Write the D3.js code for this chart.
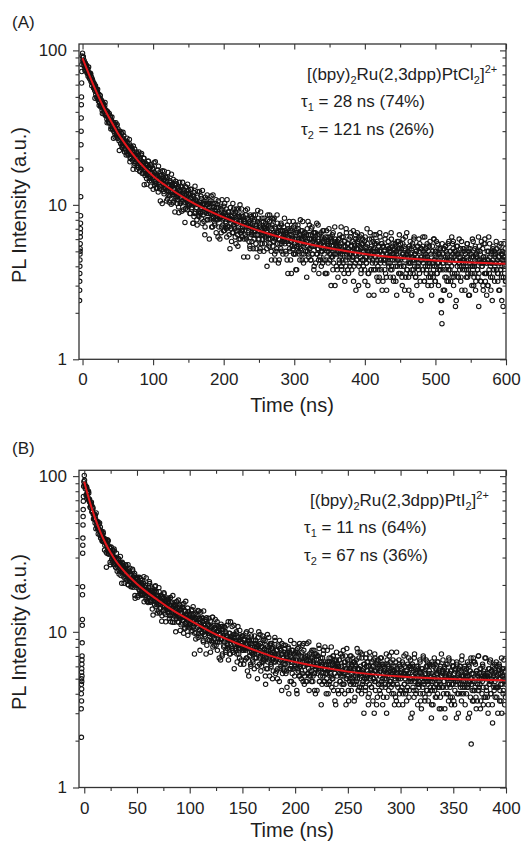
<!DOCTYPE html>
<html><head><meta charset="utf-8">
<script src="https://cdn.jsdelivr.net/npm/d3@7"></script>
<style>body{margin:0;background:#fff}svg{display:block}</style>
</head><body>
<svg id="chart" width="521" height="842"></svg>
<script>
// ---------- Panel A data: two interleaved sweeps, step 0.75 ns ----------
const timeStepA = 0.75;
const timeOffsetA2 = 0.375;
const intensityA = [
96,90,84,86,78,83,80,74,76,71,76,70,72,66,69,71,63,67,62,64,
62,57,61,55,58,52,56,50,54,51,47,52,46,49,44,48,45,41,46,42,
43,40,44,38,41,39,36,40,37,35,38,34,36,37,32,35,33,31,34,30,
33,29,31,34,28,30,27,31,29,26,28,30,25,27,29,24,27,25,28,23,
26,23,25,22,27,24,21,23,25,22,20,24,21.5,23,19.5,22,24,20,21,18.5,
21,19,22,18,20,17.5,21,19,16.5,20,18,21,17,19,16,18.5,20,17,15.5,18,
17.5,14.8,18.2,16.0,19.2,16.3,14.8,17.3,16.1,13.2,17.8,16.2,14.8,17.1,15.1,18.7,13.4,15.8,13.8,15.1,
13.8,15.6,16.8,12.1,14.6,13.9,15.5,10.6,15.6,14.4,12.6,16.6,13.6,14.4,11.8,14.6,13.5,12.7,15.0,12.4,
15.0,12.7,11.5,13.5,10.4,14.0,12.9,11.6,15.8,12.0,13.2,10.3,12.8,12.0,13.6,11.0,14.2,11.3,11.9,10.2,
11.3,13.1,8.9,11.9,12.5,10.2,13.2,11.2,10.5,14.0,11.2,9.3,12.3,11.6,10.4,9.5,13.0,11.6,10.5,9.8,
11.8,10.8,10.0,8.8,12.6,11.2,9.4,10.0,11.6,7.6,10.6,12.0,8.8,10.0,10.8,9.6,8.0,12.2,10.2,9.0,
8.4,12.2,10.0,9.0,9.6,11.0,7.6,10.2,8.6,10.6,9.6,6.4,11.2,9.0,10.0,8.0,10.0,9.2,8.8,10.8,
9.6,8.0,8.8,11.4,7.2,9.2,10.2,8.2,9.6,8.8,7.4,9.2,10.8,8.0,8.2,10.0,6.2,9.6,8.6,8.2,
8.2,9.8,6.6,9.0,8.6,7.4,8.2,9.8,6.8,9.0,8.6,7.6,7.0,10.8,7.2,8.0,9.0,6.4,8.2,8.0,
8.0,7.0,8.4,6.6,10.2,7.4,8.8,7.0,7.8,9.0,5.6,7.6,8.4,6.4,7.4,9.4,6.8,8.4,6.0,7.8,
6.8,8.6,6.8,7.4,8.0,6.0,7.8,7.2,9.2,6.2,7.4,8.2,4.6,8.0,6.8,7.2,5.4,8.6,7.6,6.4,
5.8,7.0,6.4,8.6,6.0,8.0,6.8,7.2,5.2,7.4,6.4,9.2,6.0,6.8,7.6,5.0,7.2,5.6,6.6,8.2,
6.0,6.4,7.2,8.2,5.6,6.2,7.0,7.4,5.2,6.6,8.6,6.0,6.4,7.8,5.6,7.2,6.6,4.4,7.4,6.2,
5.8,6.6,8.2,4.8,6.0,7.0,6.2,5.2,7.6,6.6,4.2,7.2,6.0,5.6,6.8,7.6,5.0,5.8,6.2,6.8,
7.2,5.8,6.0,6.8,5.0,6.6,5.8,7.4,3.6,6.0,6.8,5.2,6.4,4.4,7.0,5.8,5.4,6.0,7.8,4.8,
5.6,6.0,6.6,3.8,6.8,5.4,5.2,7.4,6.0,4.8,5.6,6.4,5.2,6.8,6.0,4.4,7.8,5.4,4.8,6.2,
5.6,6.0,4.4,6.4,5.8,5.0,7.8,4.8,5.2,6.0,6.4,4.4,7.0,5.4,4.8,5.8,6.0,3.8,6.6,5.4,
6.6,5.6,4.8,6.4,5.2,7.4,4.4,5.8,4.6,5.4,5.6,4.0,6.2,5.0,6.8,5.2,4.4,6.0,5.4,3.6,
4.4,6.8,5.2,5.6,4.2,5.8,5.2,4.8,6.2,4.8,4.6,5.8,6.4,3.8,5.4,4.8,5.8,3.0,6.0,5.4,
5.6,3.8,5.4,5.0,6.0,4.4,6.4,4.6,5.0,4.0,6.2,4.8,4.2,5.4,3.6,5.8,5.0,4.4,7.0,4.8,
5.0,3.8,5.6,5.2,4.6,4.0,6.2,5.4,4.8,4.4,4.6,5.8,3.2,5.2,5.4,4.2,6.0,4.8,4.4,6.6,
5.2,6.0,4.0,4.8,5.4,4.6,3.6,6.4,5.0,4.4,5.6,5.0,4.4,3.8,6.2,5.4,4.2,4.6,5.6,3.0,
4.8,2.6,6.0,4.6,5.2,3.8,5.4,4.8,4.4,5.8,3.8,6.4,5.0,4.2,4.6,5.6,3.4,5.0,4.0,5.4,
3.8,5.0,6.2,4.2,4.4,5.6,2.8,5.4,4.8,4.4,5.0,3.8,4.4,6.4,3.4,4.8,5.4,4.2,5.2,4.6,
5.0,4.2,3.8,6.6,4.0,4.8,5.4,3.4,4.8,4.6,4.4,5.6,3.2,5.0,4.8,4.0,4.4,5.8,3.6,5.2,
4.4,3.6,5.2,4.6,3.0,5.6,4.8,4.0,5.4,4.4,6.2,3.6,4.8,3.8,4.6,4.8,3.4,5.2,4.2,5.8,
4.2,5.2,2.6,5.4,4.6,3.8,6.0,4.4,4.8,3.4,5.0,4.4,4.0,5.4,4.0,3.8,5.0,5.6,3.2,4.6,
5.2,4.6,3.8,6.2,4.2,4.8,3.2,4.6,4.4,5.2,3.8,5.6,4.0,4.4,3.4,5.4,4.2,3.6,4.8,3.0,
3.6,5.4,4.2,3.8,6.0,4.4,3.2,5.0,4.6,4.0,3.6,5.6,4.8,4.2,3.8,4.0,5.2,2.4,2.0,1.7,
4.8,3.8,4.2,5.2,2.8,4.6,5.4,3.4,4.4,4.8,4.0,3.2,5.8,4.4,3.8,5.0,4.4,4.0,3.4,5.6,
5.2,3.0,4.6,3.6,5.0,4.4,2.4,5.4,4.0,4.8,3.4,4.8,4.2,4.0,5.2,3.4,5.8,4.4,3.8,4.2,
4.4,5.0,3.8,4.8,4.2,3.4,4.6,5.6,3.6,3.8,5.2,2.6,4.8,4.4,4.0,4.6,3.6,4.0,5.8,3.0,
3.6,4.2,5.4,3.2,4.8,4.6,3.8,3.4,6.2,3.6,4.4,5.0,3.2,4.4,4.2,4.0,5.2,2.8,4.6,4.4,
6.0,3.2,4.6,3.6,4.2,4.4,3.0,5.0,3.8,5.6,4.2,3.4,4.8,4.2,2.4,5.2,4.4,3.8,5.0,4.0,
4.8,4.2,3.8,5.2,3.6,3.6,4.6,5.4,2.8,4.2,3.8,4.8,2.4,5.0,4.4,3.4,5.6,4.0,4.6,3.2,
4.4];
const intensityA2 = [
86,91,80,83,74,82,78,80,72,75,68,78,69,70,65,70,65,59,65,61,
62,57,58,49,59,54,55,49,56,49,49,44,48,51,43,44,47,39,44,45,
39,42,46,38,41,38,34,40,37,34,39,34,37,31,35,37,31,32,27,34,
33,27.5,31,32.5,29,33,27,28,30,22.5,28,27.5,25,29,23.5,25.5,29.5,24,25.5,22,
24,25.5,21,24,25.5,21.5,23.5,22,26.5,19,23,20,23.5,21,22.5,17,21,18,23,19,
21,20.5,17,21.5,19,17.5,22,19.5,16.5,18.5,17.5,21.5,16,19,17.5,20,13.5,17.5,16,18.5,
18.3,13.6,16.7,15.6,19.1,17.0,14.3,17.4,15.3,18.2,14.3,16.0,17.3,12.6,15.1,16.2,14.1,19.0,15.5,12.8,
12.9,15.3,13.8,17.8,14.5,12.7,16.4,13.1,14.5,14.8,10.2,15.2,13.6,12.2,16.5,13.0,15.2,13.6,10.6,14.2,
10.9,16.2,12.4,13.4,11.4,14.3,12.8,10.1,13.6,12.1,11.7,14.6,10.6,12.6,9.0,13.3,12.0,13.7,10.8,12.7,
11.7,9.7,12.3,14.0,10.3,11.1,13.0,9.1,11.8,12.1,12.6,10.3,11.5,7.7,13.1,10.8,11.9,9.3,13.6,10.2,
12.4,10.0,11.6,8.8,11.0,12.6,9.6,10.4,7.6,11.4,8.4,10.4,13.2,9.0,10.6,9.6,7.4,11.2,10.0,8.6,
10.4,10.0,8.8,11.4,8.2,9.6,12.4,9.0,10.0,7.8,10.2,7.2,9.4,10.8,8.8,11.6,8.0,9.2,10.2,6.0,
10.2,9.0,10.6,8.2,9.8,7.2,11.6,8.4,9.2,7.6,10.2,8.8,6.6,9.6,8.4,8.0,10.6,7.2,8.8,6.0,
8.4,9.4,7.2,10.8,8.0,8.4,6.8,8.8,10.2,7.2,7.8,9.4,6.2,8.4,8.6,9.0,7.2,8.2,5.2,9.6,
7.6,5.8,9.0,8.0,6.6,9.4,7.2,8.6,6.2,8.0,9.4,6.8,7.6,5.4,8.6,6.0,7.8,10.0,6.6,8.0,
9.4,6.2,7.2,8.4,4.6,7.8,7.6,6.4,8.6,6.0,7.2,9.4,6.6,7.6,5.8,7.8,5.2,7.2,8.4,6.6,
8.2,7.2,5.2,7.8,6.8,6.4,8.6,5.6,7.0,4.6,7.8,6.8,8.2,6.0,7.4,5.2,9.0,6.4,7.0,5.6,
6.4,7.8,5.0,7.0,7.2,7.6,6.0,6.8,4.0,8.0,6.4,7.4,5.4,8.6,6.0,6.4,5.0,7.0,8.2,5.4,
8.0,5.8,6.4,4.4,7.2,5.0,6.6,8.6,5.6,6.8,6.0,4.4,7.2,6.4,5.2,7.4,5.6,6.8,4.8,6.4,
6.0,8.2,5.6,6.4,4.8,6.6,4.4,6.2,7.0,5.6,7.8,5.0,5.8,6.8,3.6,6.4,6.2,5.2,7.2,4.8,
5.4,7.4,4.8,6.0,3.8,6.6,5.8,7.0,5.0,6.4,4.4,8.0,5.4,6.2,4.8,6.8,6.0,4.2,6.6,5.6,
6.6,5.0,5.8,3.4,7.0,5.4,6.4,4.6,7.4,5.2,5.6,4.4,6.0,7.2,4.8,5.4,6.6,4.0,6.0,6.2,
4.2,5.6,7.6,4.8,5.8,5.2,3.6,6.4,5.6,4.4,6.6,5.0,6.0,4.2,5.8,6.8,4.8,5.4,3.6,6.2,
5.8,3.6,5.4,6.2,5.0,7.0,4.4,5.2,6.0,3.0,5.8,5.4,4.6,6.6,4.2,5.2,7.2,4.8,5.6,4.0,
4.8,5.8,3.4,5.2,6.0,4.2,5.4,4.8,7.2,3.8,5.6,4.4,6.2,5.0,5.8,3.2,5.4,4.0,6.6,4.6,
5.6,5.2,3.6,6.0,4.8,4.2,6.6,5.4,3.8,5.0,4.6,6.8,4.0,5.6,4.8,6.4,2.8,5.2,4.4,5.8,
5.6,3.0,4.8,4.2,6.2,5.2,3.8,5.6,4.4,6.0,4.0,5.0,5.8,3.2,4.6,5.2,4.2,7.0,5.0,3.6,
3.6,5.0,4.4,6.6,4.8,3.8,6.0,4.2,5.0,5.2,2.6,5.6,4.6,3.8,6.4,4.4,5.8,4.8,3.2,5.4,
3.4,6.6,4.4,5.0,3.8,5.6,4.8,3.2,5.4,4.4,4.2,6.0,3.6,4.8,2.8,5.4,4.6,5.8,4.0,5.2,
4.6,3.4,5.0,6.0,3.8,4.4,5.6,3.2,4.8,5.2,5.4,4.0,4.8,2.6,5.8,4.4,5.2,3.6,6.4,4.2,
5.6,4.0,5.2,3.4,4.8,6.0,4.0,4.6,2.8,5.2,3.4,4.8,6.6,3.8,5.0,4.2,2.8,5.4,4.6,3.6,
4.8,4.6,3.8,5.6,3.6,4.4,6.2,4.0,4.8,3.4,5.0,3.0,4.6,5.4,4.2,6.0,3.6,4.4,5.2,2.4,
5.2,4.4,5.4,3.8,5.0,3.2,6.2,4.0,4.8,3.6,5.4,4.6,3.0,5.0,4.2,4.0,5.8,3.4,4.6,2.6,
4.2,5.0,3.4,6.0,4.0,4.4,3.2,4.8,5.8,3.6,4.2,5.2,3.0,4.6,4.8,5.2,3.8,4.6,2.4,5.6,
4.2,2.8,5.2,4.4,3.4,5.4,3.8,5.0,3.2,4.6,5.6,3.8,4.2,2.6,5.0,3.2,4.6,6.2,3.6,4.8,
5.8,3.4,4.2,5.0,2.2,4.8,4.4,3.6,5.4,3.4,4.2,6.0,3.8,4.6,3.2,4.8,2.8,4.4,5.2,4.0,
5.2,4.4,2.8,4.8,4.0,3.8,5.6,3.4,4.4,2.6,5.0,4.2,5.2,3.6,4.8,3.0,6.0,4.0,4.6,3.4,
4.0,5.2,2.8,4.6,4.8,5.0,3.8,4.4,2.2,5.4,4.2,4.8,3.2,5.8,4.0,4.2,3.0,4.6,5.6,3.6,
5.6,3.6,4.2,2.6,5.0,3.0,4.4,6.2,3.6,4.6,4.0,2.8,5.0,4.2,3.4,5.4,3.8,4.8,3.2,4.6,
4.2,5.8,3.8,4.4,3.2,4.6,2.8,4.2,5.0,3.8,5.6,3.4,4.0,4.8,2.2,4.6,4.4,3.6,5.2,3.2];
const preTimeA = [-0.6,-0.9,-1.1,-1.3,-1.5,-1.7,-1.9,-2.0,-2.2,-2.4,-2.6,-2.8,-2.9,-3.0,-3.1,-3.2,-3.3,-3.4,-3.5,-3.6,-3.7,-3.8,-3.9,-4.0,-4.1,-4.2];
const preIntensityA = [92,81,73,61.5,50,44.5,36.5,30,24.5,17,11.3,8.5,7.6,7.0,6.6,6.2,5.6,5.2,5.0,4.8,4.4,4.0,3.6,3.2,2.8,2.4];
const fitTimeA = [0,5,10,15,20,30,40,50,60,80,100,120,150,200,250,300,350,400,450,500,550,600];
const fitIntensityA = [89,77.8,68.3,60.3,53.5,42.7,35.1,29.1,24.9,19.0,15.4,13.1,10.7,8.3,6.8,5.85,5.23,4.81,4.54,4.36,4.23,4.15];
const xMajorA = [0,100,200,300,400,500,600];
const xMinorA = [50,150,250,350,450,550];

// ---------- Panel B data: two interleaved sweeps, step 0.5 ns ----------
const timeStepB = 0.5;
const timeOffsetB2 = 0.25;
const intensityB = [
101,89,83,86,76,83,78,73,80,70,71,63,67,64,65,59,63,57,57,53,
53,56,46,51,51,46,51,46,45,50,44,40,44,42,40,38,43,40,38,36,
39,37,26,32,39,36,32,33,35,28,33,35,29,31,32,29.5,27,33,29.5,27.5,
26,32,28.5,26.5,27,29.5,23.5,27.5,24.5,28,26,20.5,28,24.5,26,22.5,25.5,24,23.5,26.5,
24.5,21.6,22.8,27,20,23,24.4,21.2,23.4,21.7,19.7,22.2,24.6,20.1,20.4,23,17.1,22.1,20.8,19.9,
19.9,22.4,17.1,20.9,20.2,18.3,19.4,21.9,17.2,20.5,19.9,18.2,17.3,22.6,17.5,18.7,19.9,16.1,18.7,18.0,
18.4,15.4,19.2,16.8,20.4,17.2,15.6,18.3,17.1,14.0,18.9,17.2,15.8,18.2,16.1,19.8,14.5,17.0,14.9,16.2,
14.9,16.8,18.1,13.2,15.8,15.0,16.7,11.7,16.9,15.6,13.7,17.8,14.8,15.6,12.9,15.8,14.7,13.9,16.2,13.6,
16.3,13.9,12.7,14.8,11.6,15.3,14.1,12.8,17.1,13.2,14.5,11.5,14.0,13.3,14.9,12.2,15.6,12.6,13.2,11.5,
12.5,14.4,10.2,13.2,13.8,11.4,14.4,12.4,11.8,15.2,12.5,10.5,13.5,12.8,11.6,10.8,14.2,12.9,11.7,11.1,
13.0,12.0,11.2,10.0,13.9,12.4,10.7,11.3,12.9,7.2,11.9,13.2,9.9,11.3,12.2,10.7,9.2,13.6,11.4,10.3,
9.4,13.4,11.1,10.0,10.6,12.2,8.6,11.2,9.6,11.7,10.6,7.2,12.3,10.0,11.0,8.9,11.1,10.2,9.7,11.7,
10.6,8.8,9.6,12.4,8.0,10.2,11.0,9.0,10.6,9.6,8.2,10.0,11.6,8.6,9.0,10.8,6.8,10.4,9.6,9.0,
9.0,10.8,7.2,9.8,9.4,8.2,9.0,10.6,7.4,9.8,9.4,8.4,7.8,11.6,8.0,8.8,9.8,7.2,9.0,8.8,
8.8,7.8,9.2,7.4,11.0,8.4,9.6,7.8,8.6,9.8,6.4,8.4,9.2,7.2,8.2,10.2,7.8,9.2,6.6,8.6,
7.6,9.4,7.6,8.0,8.8,6.6,8.4,7.8,10.0,6.8,8.0,9.0,5.2,8.8,7.4,8.0,6.0,9.4,8.4,7.2,
6.4,7.6,7.2,9.4,6.8,8.8,7.6,8.0,6.0,8.2,7.2,10.0,6.8,7.6,8.4,5.6,8.0,6.4,7.2,8.8,
6.6,7.0,7.8,8.8,4.6,6.8,7.6,8.0,5.8,7.2,9.2,6.6,7.0,8.4,6.2,7.8,7.2,5.0,8.0,6.8,
6.4,7.2,8.8,5.4,6.6,7.6,6.8,5.8,8.2,7.2,4.8,7.8,6.6,6.0,7.2,8.4,5.4,6.2,6.8,7.4,
7.8,6.2,6.6,7.2,5.6,7.2,6.4,8.0,4.0,6.6,7.4,5.8,7.0,4.8,7.6,6.4,5.8,6.6,8.4,5.2,
6.0,6.6,7.2,4.2,7.4,5.8,5.6,8.0,6.6,5.2,6.2,7.0,5.6,7.4,6.4,4.8,8.4,6.0,5.2,6.8,
6.2,6.6,4.8,7.0,6.2,5.4,8.6,5.2,5.6,6.6,6.8,4.8,7.6,6.0,5.2,6.2,6.6,4.2,7.2,5.8,
7.2,6.2,5.4,7.0,5.8,8.2,4.8,6.4,5.2,6.0,6.2,4.6,6.8,5.4,7.6,5.8,4.8,6.4,5.8,4.0,
5.0,7.6,5.6,6.2,4.6,6.4,5.8,5.4,6.8,5.2,5.0,6.2,7.0,4.2,5.8,5.4,6.4,3.4,6.6,5.8,
6.2,4.2,6.0,5.6,6.6,4.8,7.2,5.2,5.6,4.6,7.0,5.4,4.6,6.0,4.0,6.4,5.8,5.0,7.8,5.2,
5.6,4.2,6.2,5.8,5.0,4.6,7.0,6.0,5.4,4.8,5.2,6.4,3.6,5.8,6.2,4.6,6.6,5.4,5.0,7.4,
5.8,6.8,4.4,5.4,6.0,5.2,4.0,7.2,5.6,4.8,6.2,5.4,5.0,4.2,6.8,6.0,4.8,5.2,6.4,3.4,
5.4,4.6,6.8,5.2,5.8,4.4,6.0,5.4,5.0,6.6,3.0,7.2,5.6,4.8,5.2,6.4,3.8,5.8,4.6,6.2,
4.2,5.6,6.8,4.6,4.8,6.2,3.4,6.0,5.4,5.0,5.6,4.4,5.0,7.2,3.8,5.4,6.2,4.6,5.8,5.2,
5.6,4.8,4.4,7.4,4.6,5.4,6.0,4.0,5.6,5.2,5.0,6.4,3.6,5.8,5.4,4.4,5.0,6.6,4.0,6.0,
5.0,4.2,5.8,5.2,3.4,6.2,5.4,4.6,6.0,5.0,7.2,4.2,5.6,4.4,5.2,5.4,3.8,6.0,4.8,6.6,
4.8,5.8,3.0,6.0,5.2,4.2,6.8,5.0,5.4,4.0,5.6,5.0,4.6,6.0,4.6,4.4,5.6,6.4,3.6,5.2,
5.8,5.2,4.4,7.0,4.8,5.6,3.6,5.4,5.0,6.0,4.2,6.4,4.6,5.0,4.0,6.2,4.8,4.2,5.4,3.4,
4.2,6.2,5.0,4.4,6.8,5.0,3.8,5.8,5.4,4.6,4.0,6.4,5.6,4.8,4.4,4.6,6.0,3.2,5.2,5.6,
5.6,4.4,4.8,6.0,3.2,5.2,6.2,4.0,5.0,5.6,4.6,3.6,6.6,5.2,4.4,5.6,5.0,4.6,3.8,6.4,
6.0,3.6,5.4,4.2,5.8,5.0,2.8,6.2,4.8,5.4,4.0,5.6,5.0,4.6,6.0,4.0,6.6,5.2,4.4,4.8,
5.2,5.8,4.4,5.6,4.8,4.0,5.2,6.4,4.4,4.6,6.0,3.0,5.6,5.0,1.9,5.4,4.2,4.8,6.8,3.6,
4.2,4.8,6.2,3.8,5.6,5.4,4.6,4.2,7.0,4.4,5.0,5.8,3.6,5.2,5.0,4.8,6.0,3.4,5.4,5.2,
6.8,3.8,5.4,4.2,5.0,5.2,3.0,5.8,4.6,6.4,4.8,4.0,5.6,5.0,3.4,6.0,5.2,4.4,5.8,4.8,
5.6,5.0,4.4,6.0,4.4,4.4,5.4,6.2,3.6,5.0,4.6,5.6,3.0,5.8,5.2,4.2,6.6,4.8,5.2,3.8,
4.8];
const intensityB2 = [
94,86,86,75,85,78,79,71,78,69,68,63,66,68,59,60,62,53,57,57,
50,53,58,48,50.5,47.5,42.5,49,45.5,42,47,41.5,44,38.5,41.5,44,38,38.5,33.5,39.5,
38.5,32.5,36,38,34,38.5,31.5,33,34.5,27,33,32,29.5,33.5,28,30,34,28.5,30,26,
28,29.5,24.5,27.5,29.5,25,27.5,25.5,30.5,23,27,24,27.5,25,26.5,20.5,25,22,27,22.5,
24.7,24,20.1,25,22.2,21,25.6,23.1,19.5,21.9,21,25.2,19.3,22.6,20.9,23.7,16.4,21.1,19.3,22.2,
21.7,16.7,20.0,18.8,22.4,20.2,17.4,20.7,18.5,21.4,17.3,19.1,20.5,15.6,18.2,19.3,17.0,22.2,18.5,15.7,
15.8,18.3,16.8,21.0,17.4,15.5,19.5,15.9,17.4,17.8,12.8,18.2,16.4,14.9,19.5,15.7,18.1,16.4,13.2,17.0,
13.6,19.2,15.2,16.2,14.1,17.2,15.6,12.7,16.4,14.8,14.3,17.5,13.2,15.2,11.6,16.0,14.6,16.5,13.3,15.4,
14.3,12.2,14.9,16.6,12.7,13.6,15.5,11.5,14.3,14.6,15.0,12.6,13.9,10.0,15.6,13.1,14.3,11.6,16.0,12.6,
14.9,12.3,13.9,11.1,13.3,15.0,11.8,12.7,9.8,13.8,10.6,12.8,15.7,11.3,12.9,11.9,9.5,13.5,12.2,10.6,
12.6,12.2,10.8,13.6,10.2,11.7,14.5,10.9,12.0,9.8,12.3,9.0,11.5,12.8,10.7,13.7,9.7,10.9,12.2,7.6,
12.0,10.8,12.4,9.8,11.6,8.8,13.6,10.2,11.0,9.4,12.0,10.6,8.2,11.4,10.2,9.8,12.2,8.8,10.4,7.4,
9.8,10.8,8.6,12.4,9.4,9.8,8.2,10.4,12.0,8.6,9.4,11.0,7.6,10.0,10.2,10.6,8.6,9.6,6.6,11.2,
9.0,7.0,10.4,9.4,8.0,10.8,8.6,10.0,7.6,9.4,11.0,8.2,9.0,6.6,9.8,7.2,9.0,11.6,8.0,9.4,
10.8,7.6,8.6,9.6,5.8,9.2,8.8,7.6,10.0,7.2,8.4,10.8,7.8,8.8,6.8,9.0,6.2,8.4,9.4,7.8,
9.4,8.2,6.2,9.0,7.8,7.6,9.8,6.8,8.2,5.6,8.8,7.8,9.2,7.0,8.4,6.2,10.2,7.4,8.2,6.6,
7.4,8.8,5.8,8.0,8.4,8.8,6.8,7.8,5.0,9.2,7.4,8.2,6.2,9.6,7.0,7.4,6.0,8.0,9.4,6.4,
9.0,6.6,7.2,5.2,8.2,5.8,7.4,9.6,6.4,7.6,6.8,5.2,8.2,7.2,6.0,8.4,6.6,7.8,5.6,7.4,
7.0,9.2,6.4,7.2,5.6,7.6,5.0,7.0,8.0,6.4,8.8,5.8,6.6,7.6,4.2,7.2,6.8,5.8,8.2,5.6,
6.2,8.2,5.4,6.8,4.4,7.4,6.6,7.8,5.8,7.2,4.8,8.8,6.0,6.8,5.4,7.6,6.6,4.6,7.2,6.2,
7.4,5.8,6.6,4.0,7.8,6.2,7.2,5.2,8.4,6.0,6.4,5.0,6.8,8.2,5.4,6.0,7.6,4.6,6.8,7.0,
4.8,6.4,8.4,5.4,6.6,5.8,4.2,7.2,6.2,5.2,7.4,5.6,6.8,4.8,6.4,7.6,5.4,6.0,4.0,7.0,
6.6,4.2,6.0,7.0,5.6,7.8,4.8,5.8,6.8,3.4,6.4,6.2,5.2,7.2,4.8,5.8,8.0,5.4,6.2,4.6,
5.4,6.4,4.0,5.8,6.8,4.8,6.2,5.4,8.0,4.4,6.4,5.0,7.0,5.8,6.6,3.6,6.0,4.6,7.4,5.2,
6.2,6.0,4.0,6.6,5.4,4.8,7.2,6.0,4.2,5.6,5.2,7.6,4.6,6.4,5.4,7.0,3.4,5.8,5.0,6.6,
6.4,3.6,5.6,4.8,7.0,5.8,4.2,6.2,5.0,6.8,4.6,5.6,6.4,3.8,5.2,6.0,4.8,7.8,5.8,4.2,
4.2,5.8,5.0,7.4,5.4,4.4,6.8,4.6,5.6,5.8,3.0,6.2,5.2,4.4,7.2,5.0,6.4,5.6,3.8,6.0,
4.0,7.4,5.0,5.6,4.4,6.4,5.4,3.6,6.0,5.0,4.8,6.8,4.2,5.6,3.4,6.2,5.4,6.6,4.6,6.0,
5.2,4.0,5.8,6.8,4.4,5.0,6.2,3.8,5.6,5.8,6.2,4.6,5.4,3.0,6.6,5.2,6.0,4.2,7.0,4.8,
6.4,4.8,5.8,4.0,5.6,6.6,4.6,5.2,3.4,6.0,3.8,5.4,7.4,4.6,5.6,5.0,3.4,6.2,5.2,4.2,
5.6,5.4,4.4,6.4,4.0,5.2,7.0,4.6,5.4,4.0,5.6,3.6,5.2,6.2,4.8,6.8,4.2,5.0,6.0,2.8,
5.8,5.0,6.2,4.4,5.6,3.8,7.2,4.8,5.4,4.2,6.0,5.2,3.4,5.8,4.8,4.6,6.6,4.0,5.4,3.2,
5.0,5.8,4.0,6.8,4.6,5.0,3.8,5.4,6.6,4.2,4.8,6.0,3.6,5.4,5.6,6.0,4.4,5.2,2.8,6.4,
4.8,3.4,6.0,5.2,4.2,6.2,4.6,5.6,3.8,5.4,6.4,4.4,5.0,3.2,5.8,3.8,5.2,7.2,4.4,5.4,
6.6,4.0,4.8,5.8,2.8,5.4,5.2,4.4,6.2,4.0,5.0,6.8,4.6,5.4,3.8,5.6,3.4,5.0,6.0,4.6,
6.0,5.0,3.4,5.6,4.8,4.6,6.4,4.0,5.2,3.0,5.8,5.0,6.0,4.4,5.6,3.6,7.0,4.6,5.2,4.0,
4.8,6.0,3.4,5.2,5.4,5.8,4.4,5.2,2.8,6.2,4.8,5.6,3.8,6.8,4.6,5.0,3.6,5.4,6.4,4.2,
6.4,4.4,5.0,3.2,5.6,3.6,5.2,7.0,4.2,5.4,4.6,3.2,5.8,5.0,4.0,6.2,4.4,5.6,3.8,5.2,
5.0,6.8,4.4,5.2,3.8,5.4,3.4,5.0,5.8,4.6,6.6,4.0,4.8,5.6,2.6,5.4,5.2,4.2,6.2,3.8,
4.4,6.4,3.8,5.2,3.0,5.6,5.0,6.0,4.2,5.4,3.6,6.8,4.6,5.2,4.0,5.8,5.0,3.4,5.6,4.6];
const preTimeB = [-0.4,-0.6,-0.8,-0.9,-1.0,-1.1,-1.2,-1.3,-1.4,-1.5,-1.6,-1.7,-1.8,-1.9,-2.0,-2.1,-2.2,-2.3,-2.4,-2.5,-2.2,-2.6,-2.4,-2.7,-2.5,-2.8,-2.6,-2.9,-2.7];
const preIntensityB = [92,86,74,69,61,55,48.6,40,36,32,19.5,17.3,12,11,8.5,7,6.6,6.2,5.8,5.5,5.2,5.0,4.8,4.6,4.3,4.0,3.6,3.2,2.1];
const fitTimeB = [0,2,5,10,15,20,25,30,40,50,60,70,80,90,100,120,140,160,180,200,250,300,350,400];
const fitIntensityB = [92,81.8,69.3,54.3,44.2,37.2,32.2,28.5,23.6,20.3,17.85,15.95,14.3,13.0,11.9,10.0,8.7,7.7,6.9,6.4,5.55,5.16,4.97,4.88];
const xMajorB = [0,50,100,150,200,250,300,350,400];
const xMinorB = [25,75,125,175,225,275,325,375];

// ---------- shared ----------
const yMajor = [1,10,100];
const yMinor = [2,3,4,5,6,7,8,9,20,30,40,50,60,70,80,90];
const yTitle = "PL Intensity (a.u.)";
const xTitle = "Time (ns)";

const FONT = "'Liberation Sans', Arial, Helvetica, sans-serif";
const INK = "#1e1e1e";
const svg = d3.select("#chart");

function richText(g, x, y, parts) {
  const t = g.append("text").attr("x", x).attr("y", y)
    .attr("font-family", FONT).attr("font-size", 17).attr("fill", INK);
  let shift = 0;
  parts.forEach(p => {
    const target = p.sub ? 4 : p.sup ? -7 : 0;
    t.append("tspan").attr("dy", target - shift)
      .attr("font-size", (p.sub || p.sup) ? 11 : 17)
      .text(p.s);
    shift = target;
  });
  return t;
}

function panel(o) {
  const x = d3.scaleLinear().domain(o.xDomain).range([o.left, o.right]);
  const y = d3.scaleLog().domain(o.yDomain).range([o.bottom, o.top]);
  const g = svg.append("g");
  const clipId = "clip" + o.id;
  svg.append("clipPath").attr("id", clipId).append("rect")
    .attr("x", o.left).attr("y", o.top).attr("width", o.right - o.left).attr("height", o.bottom - o.top);

  // points (two interleaved sweeps + rising-edge points)
  const pts = o.values.map((v, i) => ({t: i * o.step, v}))
    .concat(o.values2.map((v, i) => ({t: o.offset2 + i * o.step, v})))
    .concat(o.preT.map((t, i) => ({t, v: o.preV[i]})));
  g.append("g").attr("clip-path", `url(#${clipId})`)
    .selectAll("circle").data(pts).join("circle")
    .attr("cx", d => x(d.t)).attr("cy", d => y(d.v)).attr("r", 2.2)
    .attr("fill", "none").attr("stroke", "#141414").attr("stroke-width", 1.1);

  // fit line
  const fit = o.fitT.map((t, i) => ({t, v: o.fitV[i]}));
  g.append("path").datum(fit)
    .attr("d", d3.line().x(d => x(d.t)).y(d => y(d.v)).curve(d3.curveMonotoneX))
    .attr("fill", "none").attr("stroke", "#e5161b").attr("stroke-width", 2);

  // axes
  const ax = (gen, tr) => {
    const a = g.append("g").attr("transform", tr).call(gen);
    a.select(".domain").remove();
    a.selectAll("line").attr("stroke", "#333").attr("stroke-width", 1.1);
    a.selectAll("text").attr("font-family", FONT).attr("font-size", 17).attr("fill", INK);
    return a;
  };
  const fmt = d3.format("d");
  ax(d3.axisBottom(x).tickValues(o.xMajor).tickSize(6).tickPadding(8).tickFormat(fmt), `translate(0,${o.bottom})`);
  ax(d3.axisBottom(x).tickValues(o.xMinor).tickSize(3.5).tickFormat(""), `translate(0,${o.bottom})`);
  ax(d3.axisTop(x).tickValues(o.xMajor).tickSize(-5.5).tickFormat(""), `translate(0,${o.top})`);
  ax(d3.axisTop(x).tickValues(o.xMinor).tickSize(-3.5).tickFormat(""), `translate(0,${o.top})`);
  ax(d3.axisLeft(y).tickValues(yMajor).tickSize(6).tickPadding(6).tickFormat(fmt), `translate(${o.left},0)`);
  ax(d3.axisLeft(y).tickValues(yMinor).tickSize(3.5).tickFormat(""), `translate(${o.left},0)`);
  ax(d3.axisRight(y).tickValues(yMajor).tickSize(-6).tickFormat(""), `translate(${o.right},0)`);
  ax(d3.axisRight(y).tickValues(yMinor).tickSize(-3.5).tickFormat(""), `translate(${o.right},0)`);

  // frame
  g.append("rect").attr("x", o.left).attr("y", o.top)
    .attr("width", o.right - o.left).attr("height", o.bottom - o.top)
    .attr("fill", "none").attr("stroke", "#333").attr("stroke-width", 1.3);

  // titles
  g.append("text").attr("transform", `translate(26,${o.yTitleY}) rotate(-90)`)
    .attr("text-anchor", "middle").attr("font-family", FONT).attr("font-size", 20).attr("fill", INK)
    .text(yTitle);
  g.append("text").attr("x", 292).attr("y", o.xTitleY)
    .attr("text-anchor", "middle").attr("font-family", FONT).attr("font-size", 20).attr("fill", INK)
    .text(xTitle);
  g.append("text").attr("x", 12).attr("y", o.top - 16)
    .attr("font-family", FONT).attr("font-size", 17).attr("fill", INK).text(o.label);

  // annotation
  richText(g, o.annX, o.top + 36, o.formula);
  richText(g, o.annX - 6, o.top + 63, o.tau1);
  richText(g, o.annX - 6, o.top + 91, o.tau2);
}

panel({
  id: "A", left: 79, right: 506, top: 44, bottom: 359.3,
  xDomain: [-5, 600], yDomain: [1, 110],
  step: timeStepA, values: intensityA, values2: intensityA2, offset2: timeOffsetA2,
  preT: preTimeA, preV: preIntensityA,
  fitT: fitTimeA, fitV: fitIntensityA, xMajor: xMajorA, xMinor: xMinorA,
  yTitleY: 205, xTitleY: 412, label: "(A)", annX: 307,
  formula: [{s:"[(bpy)"},{s:"2",sub:1},{s:"Ru(2,3dpp)PtCl"},{s:"2",sub:1},{s:"]"},{s:"2+",sup:1}],
  tau1: [{s:"τ"},{s:"1",sub:1},{s:" = 28 ns (74%)"}],
  tau2: [{s:"τ"},{s:"2",sub:1},{s:" = 121 ns (26%)"}]
});
panel({
  id: "B", left: 79, right: 506, top: 470.3, bottom: 787.5,
  xDomain: [-5, 400], yDomain: [1, 109],
  step: timeStepB, values: intensityB, values2: intensityB2, offset2: timeOffsetB2,
  preT: preTimeB, preV: preIntensityB,
  fitT: fitTimeB, fitV: fitIntensityB, xMajor: xMajorB, xMinor: xMinorB,
  yTitleY: 632, xTitleY: 837, label: "(B)", annX: 310,
  formula: [{s:"[(bpy)"},{s:"2",sub:1},{s:"Ru(2,3dpp)PtI"},{s:"2",sub:1},{s:"]"},{s:"2+",sup:1}],
  tau1: [{s:"τ"},{s:"1",sub:1},{s:" = 11 ns (64%)"}],
  tau2: [{s:"τ"},{s:"2",sub:1},{s:" = 67 ns (36%)"}]
});
</script>
</body></html>
